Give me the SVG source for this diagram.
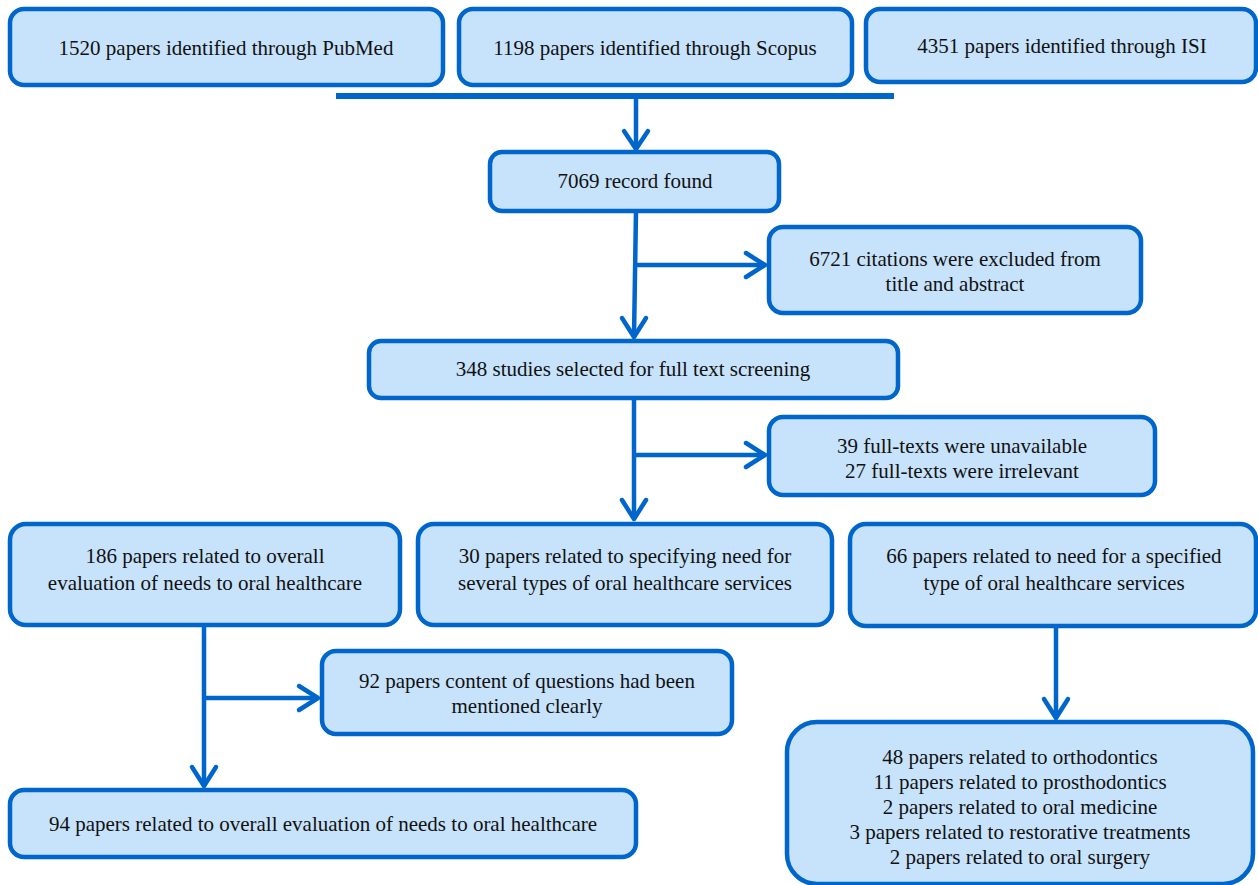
<svg xmlns="http://www.w3.org/2000/svg" width="1258" height="885" viewBox="0 0 1258 885">
<style>
.box{fill:#C7E3FB;stroke:#0066CC;stroke-width:4.5}
.t{font-family:"Liberation Serif","Times New Roman",serif;font-size:21px;fill:#111;text-anchor:middle}
.ln{stroke:#0066CC;stroke-width:4.5;fill:none}
.ah{stroke:#0066CC;stroke-width:4.5;fill:none;stroke-linecap:round;stroke-linejoin:round}
</style>
<rect width="1258" height="885" fill="#fff"/>
<g id="connectors">
<line class="ln" x1="336" y1="96" x2="894" y2="96" style="stroke-width:6"/>
<line class="ln" x1="636" y1="96" x2="636" y2="149"/>
<polyline class="ah" points="624,131 636,149 648,131"/>
<line class="ln" x1="636" y1="211" x2="634" y2="337"/>
<polyline class="ah" points="622,318 634,337 646,318"/>
<line class="ln" x1="636" y1="265" x2="765" y2="265"/>
<polyline class="ah" points="746,253 765,265 746,277"/>
<line class="ln" x1="634" y1="398" x2="634" y2="519"/>
<polyline class="ah" points="622,500 634,519 646,500"/>
<line class="ln" x1="634" y1="455" x2="765" y2="455"/>
<polyline class="ah" points="746,443 765,455 746,467"/>
<line class="ln" x1="204" y1="625" x2="204" y2="786"/>
<polyline class="ah" points="192,767 204,786 216,767"/>
<line class="ln" x1="204" y1="698" x2="318" y2="698"/>
<polyline class="ah" points="299,686 318,698 299,710"/>
<line class="ln" x1="1056" y1="626" x2="1056" y2="718"/>
<polyline class="ah" points="1044,699 1056,718 1068,699"/>
</g>
<g id="n1"><rect class="box" x="10" y="9" width="433" height="76" rx="14"/><text class="t" x="226" y="55">1520 papers identified through PubMed</text></g>
<g id="n2"><rect class="box" x="459" y="9" width="393" height="76" rx="14"/><text class="t" x="655" y="55">1198 papers identified through Scopus</text></g>
<g id="n3"><rect class="box" x="866" y="9" width="390" height="73" rx="14"/><text class="t" x="1062" y="53">4351 papers identified through ISI</text></g>
<g id="n4"><rect class="box" x="490" y="152" width="289" height="59" rx="12"/><text class="t" x="635" y="188">7069 record found</text></g>
<g id="n5"><rect class="box" x="769" y="227" width="372" height="86" rx="14"/><text class="t" x="955" y="266">6721 citations were excluded from</text><text class="t" x="955" y="291">title and abstract</text></g>
<g id="n6"><rect class="box" x="369" y="341" width="529" height="57" rx="12"/><text class="t" x="633" y="376">348 studies selected for full text screening</text></g>
<g id="n7"><rect class="box" x="769" y="417" width="386" height="78" rx="14"/><text class="t" x="962" y="453">39 full-texts were unavailable</text><text class="t" x="962" y="478">27 full-texts were irrelevant</text></g>
<g id="n8"><rect class="box" x="10" y="524" width="390" height="101" rx="16"/><text class="t" x="205" y="563">186 papers related to overall</text><text class="t" x="205" y="590">evaluation of needs to oral healthcare</text></g>
<g id="n9"><rect class="box" x="418" y="524" width="414" height="101" rx="16"/><text class="t" x="625" y="563">30 papers related to specifying need for</text><text class="t" x="625" y="590">several types of oral healthcare services</text></g>
<g id="n10"><rect class="box" x="850" y="524" width="406" height="102" rx="16"/><text class="t" x="1054" y="563">66 papers related to need for a specified</text><text class="t" x="1054" y="590">type of oral healthcare services</text></g>
<g id="n11"><rect class="box" x="322" y="651" width="410" height="83" rx="14"/><text class="t" x="527" y="688">92 papers content of questions had been</text><text class="t" x="527" y="713">mentioned clearly</text></g>
<g id="n12"><rect class="box" x="10" y="790" width="626" height="67" rx="14"/><text class="t" x="323" y="831">94 papers related to overall evaluation of needs to oral healthcare</text></g>
<g id="n13"><rect class="box" x="787" y="722" width="466" height="162" rx="30"/><text class="t" x="1020" y="764">48 papers related to orthodontics</text><text class="t" x="1020" y="789">11 papers related to prosthodontics</text><text class="t" x="1020" y="814">2 papers related to oral medicine</text><text class="t" x="1020" y="839">3 papers related to restorative treatments</text><text class="t" x="1020" y="864">2 papers related to oral surgery</text></g>
</svg>
